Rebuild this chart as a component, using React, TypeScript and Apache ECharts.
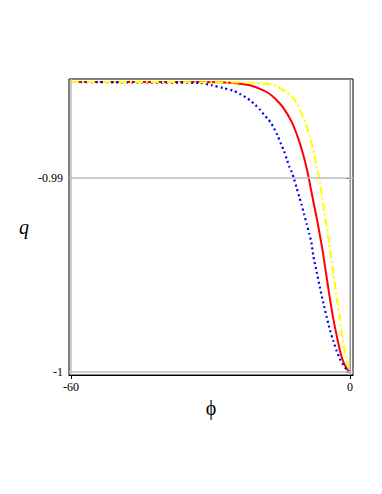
import React, { useEffect, useRef } from "react";
import * as echarts from "echarts";

const xTicks = [-60, 0];
const yTicks = [-1, -0.99];

const phiRed = [-60, -32.26, -25.16, -21.51, -19.35, -17.57, -16.13, -14.41, -12.54, -11.12, -10.04, -9.18, -8.45, -7.74, -7.03, -6.45, -5.91, -5.16, -4.41, -3.66, -2.8, -2.04, -1.4, -0.75, -0.32, 0];
const qRed = [-0.98505, -0.98505, -0.9851, -0.98522, -0.98541, -0.98562, -0.9859, -0.98636, -0.98711, -0.98797, -0.98881, -0.98964, -0.99052, -0.99139, -0.99222, -0.99299, -0.99371, -0.9949, -0.99608, -0.99717, -0.9982, -0.99902, -0.99949, -0.99979, -0.99995, -1.0];

const phiBlue = [-60, -43.01, -32.26, -29.74, -27.25, -25.1, -23.66, -22.43, -21.35, -20.43, -19.35, -18.49, -17.7, -16.99, -16.34, -15.63, -14.84, -14.19, -13.61, -13.05, -12.54, -12.04, -11.46, -10.9, -10.39, -9.89, -9.31, -8.75, -8.28, -7.89, -7.16, -6.45, -5.74, -5.01, -4.3, -3.59, -2.86, -2.15, -1.44, -0.71, 0];
const qBlue = [-0.98505, -0.98508, -0.9851, -0.98522, -0.98536, -0.9855, -0.98567, -0.98584, -0.98602, -0.98622, -0.98648, -0.98674, -0.98694, -0.98716, -0.98744, -0.98778, -0.98825, -0.98861, -0.98902, -0.98941, -0.98969, -0.99005, -0.99052, -0.99098, -0.99139, -0.99186, -0.99237, -0.99289, -0.99335, -0.99402, -0.99485, -0.99567, -0.99644, -0.99717, -0.99784, -0.9984, -0.99892, -0.99933, -0.99964, -0.99987, -1.0];

const phiYellow = [-60, -21.51, -17.91, -15.76, -13.98, -12.54, -11.46, -10.39, -9.31, -8.45, -7.74, -7.16, -6.6, -6.09, -5.59, -5.01, -4.67, -4.3, -3.59, -2.86, -2.15, -1.44, -0.71, 0];
const qYellow = [-0.98505, -0.98508, -0.98515, -0.98527, -0.98553, -0.98579, -0.98613, -0.98667, -0.98736, -0.98804, -0.98873, -0.98942, -0.99005, -0.99079, -0.99165, -0.99251, -0.99303, -0.99371, -0.9949, -0.99613, -0.99732, -0.99851, -0.99938, -1.0];

const pairs = (xs: number[], ys: number[]) => xs.map((x, i) => [x, ys[i]]);

export default function App() {
  const ref = useRef<HTMLDivElement>(null);
  useEffect(() => {
    document.body.style.margin = "0";
    const chart = echarts.init(ref.current!, null, { renderer: "svg" });
    const serif = "Liberation Serif";
    const gridLine = { color: "#bdbdbd", width: 1.5, type: "solid" as const };
    chart.setOption({
      animation: false,
      backgroundColor: "#ffffff",
      grid: {
        left: 69,
        top: 79,
        width: 284,
        height: 296,
        show: true,
        borderColor: "#000000",
        borderWidth: 1,
        backgroundColor: "transparent",
      },
      xAxis: {
        type: "value",
        min: -60.43,
        max: 0.645,
        name: "ϕ",
        nameLocation: "middle",
        nameGap: 23,
        nameTextStyle: { fontFamily: serif, fontSize: 20, color: "#000" },
        axisLine: { show: true, lineStyle: { color: "#000", width: 1 } },
        splitLine: { show: false },
        axisTick: { show: true, customValues: xTicks, length: 4, lineStyle: { color: "#000" } },
        axisLabel: {
          customValues: xTicks,
          formatter: (v: number) => String(v),
          fontFamily: serif,
          fontSize: 12,
          color: "#000",
          margin: 6,
        },
      },
      yAxis: {
        type: "value",
        min: -1.000155,
        max: -0.984897,
        name: "q",
        nameLocation: "middle",
        nameRotate: 0,
        nameGap: 40,
        nameTextStyle: { fontFamily: serif, fontSize: 20, fontStyle: "italic", color: "#000" },
        axisLine: { show: true, lineStyle: { color: "#000", width: 1 } },
        splitLine: { show: false },
        axisTick: { show: true, customValues: yTicks, length: 4, lineStyle: { color: "#000" } },
        axisLabel: {
          customValues: yTicks,
          formatter: (v: number) => (v === -1 ? "-1" : "-0.99"),
          fontFamily: serif,
          fontSize: 12,
          color: "#000",
          margin: 6,
        },
      },
      series: [
        {
          type: "line",
          name: "grid",
          data: [],
          silent: true,
          markLine: {
            silent: true,
            symbol: "none",
            label: { show: false },
            lineStyle: gridLine,
            data: [
              { xAxis: xTicks[0] },
              { xAxis: xTicks[1] },
              { yAxis: yTicks[0] },
              { yAxis: yTicks[1] },
            ],
          },
        },
        {
          type: "line",
          data: pairs(phiRed, qRed),
          showSymbol: false,
          smooth: 0.25,
          lineStyle: { color: "#ff0000", width: 2 },
        },
        {
          type: "line",
          data: pairs(phiBlue, qBlue),
          showSymbol: false,
          smooth: 0.25,
          lineStyle: { color: "#0000ff", width: 2.2, type: [2, 3] },
        },
        {
          type: "line",
          data: pairs(phiYellow, qYellow),
          showSymbol: false,
          smooth: 0.25,
          lineStyle: { color: "#ffff00", width: 2.2, type: [8, 3, 2, 3] },
        },
      ],
    });
    return () => chart.dispose();
  }, []);
  return <div ref={ref} style={{ width: 382, height: 494 }} />;
}
